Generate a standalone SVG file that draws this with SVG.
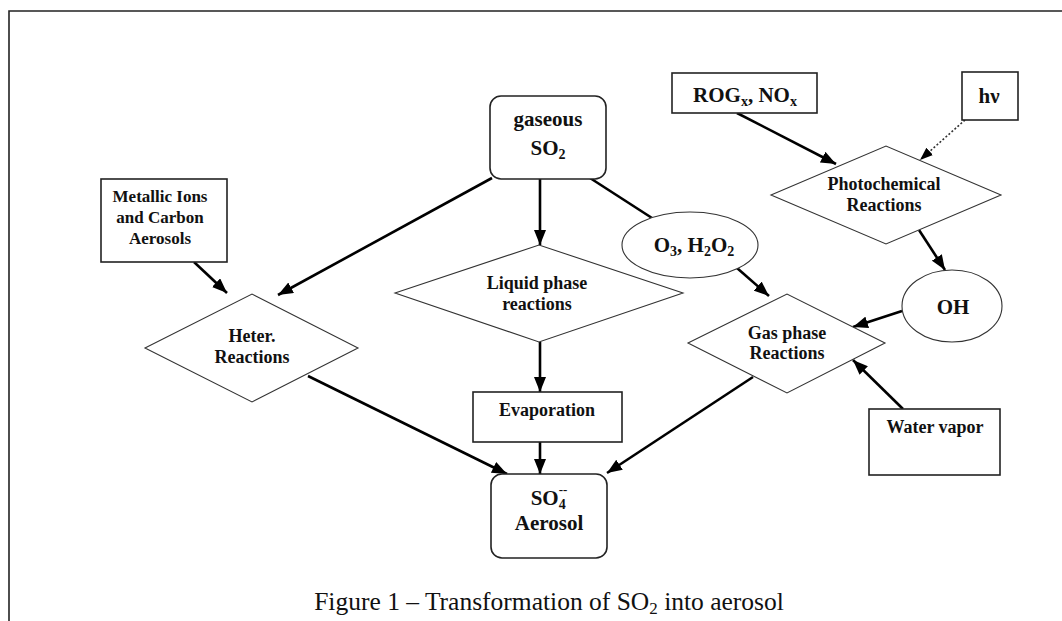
<svg xmlns="http://www.w3.org/2000/svg" width="1062" height="621" viewBox="0 0 1062 621">
<defs>
<marker id="ah" markerUnits="userSpaceOnUse" markerWidth="16" markerHeight="12" refX="15" refY="6" orient="auto"><path d="M0,0 L15,6 L0,12 z" fill="#000"/></marker>
<marker id="ahs" markerUnits="userSpaceOnUse" markerWidth="14" markerHeight="12" refX="13" refY="5" orient="auto"><path d="M0,0 L13,5 L0,10 z" fill="#000"/></marker>
<style>
.t{font-family:"Liberation Serif","Times New Roman",serif;font-weight:bold;fill:#111;text-anchor:middle}
.box{fill:#fff;stroke:#222;stroke-width:1.6}
.shp{fill:#fff;stroke:#333;stroke-width:1.1}
.c{stroke:#000;stroke-width:2.6;fill:none;marker-end:url(#ah)}
.l{stroke:#000;stroke-width:2.6;fill:none}
.d{stroke:#333;stroke-width:1.6;fill:none;stroke-dasharray:2 2;marker-end:url(#ahs)}
.s18{font-size:18px}.s21{font-size:21px}.s17{font-size:17px}
</style>
</defs>
<rect width="1062" height="621" fill="#fff"/>
<path d="M9,621 L9,11 L1062,11" fill="none" stroke="#222" stroke-width="1.6"/>

<g id="connectors">
<line class="c" x1="492" y1="178" x2="278" y2="295"/>
<line class="c" x1="194" y1="262" x2="227" y2="293"/>
<line class="c" x1="540" y1="179" x2="540" y2="245"/>
<line class="l" x1="590" y1="178" x2="652" y2="218"/>
<line class="c" x1="737" y1="268" x2="769" y2="296"/>
<line class="c" x1="540" y1="342" x2="540" y2="392"/>
<line class="c" x1="540" y1="442" x2="540" y2="474"/>
<line class="c" x1="308" y1="376" x2="507" y2="474"/>
<line class="c" x1="753" y1="377" x2="607" y2="473"/>
<line class="c" x1="737" y1="113" x2="836" y2="164"/>
<line class="d" x1="965" y1="120" x2="920" y2="160"/>
<line class="c" x1="919" y1="230" x2="945" y2="270"/>
<line class="c" x1="902" y1="311" x2="853" y2="327"/>
<line class="c" x1="903" y1="409" x2="853" y2="360"/>
</g>

<g id="gaseous-so2">
<rect class="box" x="490" y="96" width="116" height="83" rx="11"/>
<text class="t s21" x="548" y="126">gaseous</text>
<text class="t s21" x="548" y="155">SO<tspan font-size="14" dy="4">2</tspan></text>
</g>

<g id="metallic-ions">
<rect class="box" x="101" y="179" width="126" height="83"/>
<text class="t s17" x="160" y="202">Metallic Ions</text>
<text class="t s17" x="160" y="223">and Carbon</text>
<text class="t s17" x="160" y="244">Aerosols</text>
</g>

<g id="heter-reactions">
<polygon class="shp" points="145,348 252,294 358,348 252,402"/>
<text class="t s18" x="252" y="342">Heter.</text>
<text class="t s18" x="252" y="363">Reactions</text>
</g>

<g id="liquid-phase">
<polygon class="shp" points="395,293 539,245 683,293 539,342"/>
<text class="t s18" x="537" y="289">Liquid phase</text>
<text class="t s18" x="537" y="310">reactions</text>
</g>

<g id="evaporation">
<rect class="box" x="473" y="392" width="149" height="50"/>
<text class="t s18" x="547" y="416">Evaporation</text>
</g>

<g id="so4-aerosol">
<rect class="box" x="491" y="474" width="116" height="84" rx="11"/>
<text class="t s21" x="549" y="505">SO<tspan font-size="14" dy="4">4</tspan><tspan font-size="13" dx="-7" dy="-15">--</tspan></text>
<text class="t s21" x="549" y="530">Aerosol</text>
</g>

<g id="o3-h2o2">
<ellipse class="shp" cx="690" cy="245" rx="68" ry="33"/>
<text class="t s21" x="694" y="252">O<tspan font-size="14" dy="4">3</tspan><tspan dy="-4">, H</tspan><tspan font-size="14" dy="4">2</tspan><tspan dy="-4">O</tspan><tspan font-size="14" dy="4">2</tspan></text>
</g>

<g id="gas-phase">
<polygon class="shp" points="688,343 787,294 885,343 787,393"/>
<text class="t s18" x="787" y="339">Gas phase</text>
<text class="t s18" x="787" y="359">Reactions</text>
</g>

<g id="rog-nox">
<rect class="box" x="672" y="73" width="145" height="40"/>
<text class="t s21" x="745" y="102">ROG<tspan font-size="14" dy="4">x</tspan><tspan dy="-4">, NO</tspan><tspan font-size="14" dy="4">x</tspan></text>
</g>

<g id="hv">
<rect class="box" x="962" y="72" width="56" height="48"/>
<text class="t s21" x="989" y="103">hν</text>
</g>

<g id="photochemical">
<polygon class="shp" points="771,195 886,146 1001,195 886,244"/>
<text class="t s18" x="884" y="190">Photochemical</text>
<text class="t s18" x="884" y="211">Reactions</text>
</g>

<g id="oh">
<ellipse class="shp" cx="952" cy="306" rx="50" ry="36"/>
<text class="t s21" x="953" y="314">OH</text>
</g>

<g id="water-vapor">
<rect class="box" x="869" y="409" width="131" height="66"/>
<text class="t s18" x="935" y="433">Water vapor</text>
</g>

<text x="549" y="610" style="font-family:'Liberation Serif','Times New Roman',serif;font-size:25.5px;fill:#111;text-anchor:middle">Figure 1 – Transformation of SO<tspan font-size="17" dy="4">2</tspan><tspan dy="-4"> into aerosol</tspan></text>
</svg>
